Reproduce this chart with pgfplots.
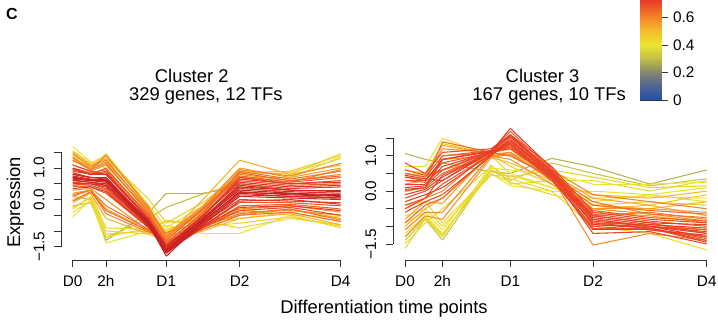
\documentclass[border=0pt]{standalone}
\usepackage{fontspec}
\setmainfont{Liberation Sans}
\usepackage{pgfplots}
\pgfplotsset{compat=1.18}
\pgfplotsset{
 colormap={fuzz}{rgb255(0cm)=(35,80,168); rgb255(1cm)=(80,100,150); rgb255(2cm)=(135,135,108); rgb255(3cm)=(190,190,72); rgb255(4cm)=(232,230,48); rgb255(5cm)=(246,188,44); rgb255(6cm)=(245,132,40); rgb255(7.27cm)=(232,58,38); rgb255(8cm)=(215,42,36); rgb255(10cm)=(165,22,30)},
 panel/.style={scale only axis, xmin=0, xmax=268, ymin=-1.5, ymax=1.5, clip=false,
   axis x line*=bottom, axis y line*=left,
   xtick={0,33.3,93.6,167,268}, xticklabels={D0,2h,D1,D2,D4},
   ytick={-1.5,-1,-0.5,0,0.5,1,1.5}, yticklabels={−1.5,,,0.0,,1.0,},
   tick align=outside, major tick length=5.5pt,
   axis line style={line width=0.6pt, black!80}, every tick/.style={line width=0.6pt, black!80},
   tick label style={font=\fontsize{11.5}{13}\selectfont},
   typeset ticklabels with strut,
   xticklabel style={yshift=-2pt},
   yticklabel style={rotate=90, anchor=south},
   colormap name=fuzz, point meta min=0, point meta max=1,
   every axis plot/.append style={line width=0.8pt},
 }
}
\begin{document}
\begin{tikzpicture}
\path[use as bounding box] (0,0) rectangle (538.5pt,243.75pt);
% ---------------- Cluster 2 ----------------
\begin{axis}[panel, at={(54.5pt,58.7pt)}, anchor=south west, width=201pt, height=70.8pt,
  axis x line shift=10pt, axis y line shift=8.25pt]
\addplot[mesh, point meta=0.28] coordinates {(0,0.10)(18,0.00)(33.3,-1.30)(76.4,-0.40)(93.6,0.20)(130.3,0.20)(167,0.40)(217.5,0.20)(268,0.00)};
\addplot[mesh, point meta=0.30] coordinates {(0,-0.20)(18,-0.10)(33.3,-1.20)(76.4,-0.60)(93.6,-0.25)(130.3,0.18)(167,0.50)(217.5,0.30)(268,0.30)};
\addplot[mesh, point meta=0.40] coordinates {(0,-0.55)(18,0.00)(33.3,-1.38)(76.4,-1.00)(93.6,-0.82)(130.3,-1.08)(167,-1.08)(217.5,-0.50)(268,-0.55)};
\addplot[mesh, point meta=0.40] coordinates {(0,1.68)(18,1.20)(33.3,1.00)(76.4,-0.50)(93.6,-1.00)(130.3,-0.50)(167,0.90)(217.5,0.80)(268,1.46)};
\addplot[mesh, point meta=0.42] coordinates {(0,-0.40)(18,-0.05)(33.3,-1.20)(76.4,-0.90)(93.6,-0.70)(130.3,-0.80)(167,-0.60)(217.5,-0.40)(268,-0.70)};
\addplot[mesh, point meta=0.42] coordinates {(0,1.40)(18,1.00)(33.3,1.46)(76.4,-0.20)(93.6,-0.90)(130.3,-0.20)(167,0.70)(217.5,0.70)(268,1.35)};
\addplot[mesh, point meta=0.43] coordinates {(0,-0.30)(18,0.10)(33.3,-1.00)(76.4,-1.10)(93.6,-0.95)(130.3,-0.60)(167,-0.30)(217.5,-0.50)(268,-0.90)};
\addplot[mesh, point meta=0.44] coordinates {(0,0.00)(18,0.20)(33.3,-0.90)(76.4,-0.95)(93.6,-0.70)(130.3,-0.70)(167,-0.90)(217.5,-0.60)(268,-0.80)};
\addplot[mesh, point meta=0.45] coordinates {(0,1.20)(18,1.10)(33.3,1.30)(76.4,0.00)(93.6,-0.75)(130.3,-0.10)(167,0.80)(217.5,0.85)(268,1.30)};
\addplot[mesh, point meta=0.45] coordinates {(0,-0.25)(18,0.05)(33.3,-1.10)(76.4,-1.00)(93.6,-0.65)(130.3,-0.85)(167,-0.75)(217.5,-0.55)(268,-0.85)};
\addplot[mesh, point meta=0.47] coordinates {(0,1.55)(18,1.15)(33.3,1.40)(76.4,-0.30)(93.6,-1.05)(130.3,-0.30)(167,0.85)(217.5,0.90)(268,1.40)};
\addplot[mesh, point meta=0.52] coordinates {(0,1.50)(18,1.10)(33.3,1.30)(76.4,-0.40)(93.6,-1.20)(130.3,0.00)(167,1.25)(217.5,0.80)(268,1.10)};
\addplot[mesh, point meta=0.52] coordinates {(0,-0.10)(18,0.20)(33.3,-0.60)(76.4,-1.10)(93.6,-1.30)(130.3,-1.00)(167,-0.60)(217.5,-0.45)(268,-0.80)};
\addplot[mesh, point meta=0.55] coordinates {(0,0.20)(18,0.30)(33.3,-0.30)(76.4,-1.00)(93.6,-1.20)(130.3,-0.80)(167,-0.50)(217.5,-0.30)(268,-0.60)};
\addplot[mesh, point meta=0.55] coordinates {(0,1.30)(18,1.00)(33.3,1.20)(76.4,-0.30)(93.6,-1.10)(130.3,-0.20)(167,1.00)(217.5,0.70)(268,1.00)};
\addplot[mesh, point meta=0.58] coordinates {(0,0.30)(18,0.35)(33.3,0.00)(76.4,-1.00)(93.6,-1.40)(130.3,-0.90)(167,-0.30)(217.5,-0.20)(268,-0.40)};
\addplot[mesh, point meta=0.58] coordinates {(0,1.10)(18,0.90)(33.3,1.10)(76.4,-0.40)(93.6,-1.25)(130.3,-0.35)(167,0.80)(217.5,0.60)(268,0.80)};
\addplot[mesh, point meta=0.60] coordinates {(0,0.10)(18,0.30)(33.3,-0.45)(76.4,-1.05)(93.6,-1.05)(130.3,-0.70)(167,-0.40)(217.5,-0.35)(268,-0.50)};
\addplot[mesh, point meta=0.60] coordinates {(0,1.45)(18,1.05)(33.3,1.25)(76.4,-0.35)(93.6,-1.15)(130.3,-0.25)(167,0.95)(217.5,0.75)(268,1.15)};
\addplot[mesh, point meta=0.61] coordinates {(0,1.35)(18,0.95)(33.3,1.40)(76.4,-0.25)(93.6,-1.20)(130.3,-0.30)(167,0.70)(217.5,0.55)(268,0.95)};
\addplot[mesh, point meta=0.62] coordinates {(0,0.15)(18,0.30)(33.3,-0.20)(76.4,-0.95)(93.6,-1.30)(130.3,-0.85)(167,-0.45)(217.5,-0.30)(268,-0.65)};
\addplot[mesh, point meta=0.63] coordinates {(0,1.25)(18,0.95)(33.3,1.15)(76.4,-0.45)(93.6,-1.35)(130.3,-0.45)(167,0.90)(217.5,0.65)(268,0.90)};
\addplot[mesh, point meta=0.64] coordinates {(0,-0.05)(18,0.25)(33.3,-0.35)(76.4,-1.00)(93.6,-1.35)(130.3,-0.95)(167,-0.50)(217.5,-0.40)(268,-0.70)};
\addplot[mesh, point meta=0.65] coordinates {(0,0.95)(18,0.80)(33.3,1.00)(76.4,-0.55)(93.6,-1.30)(130.3,-0.30)(167,0.85)(217.5,0.60)(268,0.75)};
\addplot[mesh, point meta=0.66] coordinates {(0,1.00)(18,0.85)(33.3,0.95)(76.4,-0.50)(93.6,-1.40)(130.3,-0.40)(167,0.75)(217.5,0.55)(268,0.70)};
\addplot[mesh, point meta=0.66] coordinates {(0,0.40)(18,0.40)(33.3,0.20)(76.4,-0.90)(93.6,-1.60)(130.3,-0.90)(167,-0.20)(217.5,-0.15)(268,-0.30)};
\addplot[mesh, point meta=0.68] coordinates {(0,0.90)(18,0.80)(33.3,0.90)(76.4,-0.60)(93.6,-1.45)(130.3,-0.50)(167,0.60)(217.5,0.45)(268,0.50)};
\addplot[mesh, point meta=0.68] coordinates {(0,0.50)(18,0.45)(33.3,0.30)(76.4,-0.90)(93.6,-1.55)(130.3,-0.85)(167,-0.10)(217.5,-0.10)(268,-0.20)};
\addplot[mesh, point meta=0.70] coordinates {(0,1.10)(18,0.90)(33.3,0.80)(76.4,-0.60)(93.6,-1.50)(130.3,-0.50)(167,0.70)(217.5,0.50)(268,0.60)};
\addplot[mesh, point meta=0.70] coordinates {(0,0.45)(18,0.50)(33.3,0.35)(76.4,-0.85)(93.6,-1.65)(130.3,-0.90)(167,-0.35)(217.5,-0.25)(268,-0.50)};
\addplot[mesh, point meta=0.72] coordinates {(0,0.80)(18,0.70)(33.3,0.70)(76.4,-0.70)(93.6,-1.50)(130.3,-0.60)(167,0.50)(217.5,0.35)(268,0.40)};
\addplot[mesh, point meta=0.72] coordinates {(0,0.55)(18,0.50)(33.3,0.40)(76.4,-0.85)(93.6,-1.60)(130.3,-0.75)(167,0.00)(217.5,-0.05)(268,-0.10)};
\addplot[mesh, point meta=0.74] coordinates {(0,0.95)(18,0.80)(33.3,0.85)(76.4,-0.65)(93.6,-1.45)(130.3,-0.55)(167,0.65)(217.5,0.50)(268,0.55)};
\addplot[mesh, point meta=0.74] coordinates {(0,0.35)(18,0.40)(33.3,0.25)(76.4,-0.90)(93.6,-1.65)(130.3,-0.85)(167,-0.25)(217.5,-0.20)(268,-0.35)};
\addplot[mesh, point meta=0.76] coordinates {(0,0.50)(18,0.50)(33.3,0.45)(76.4,-0.85)(93.6,-1.70)(130.3,-0.85)(167,-0.05)(217.5,0.00)(268,-0.15)};
\addplot[mesh, point meta=0.76] coordinates {(0,1.00)(18,0.80)(33.3,0.80)(76.4,-0.65)(93.6,-1.50)(130.3,-0.50)(167,0.55)(217.5,0.40)(268,0.45)};
\addplot[mesh, point meta=0.78] coordinates {(0,0.75)(18,0.65)(33.3,0.60)(76.4,-0.75)(93.6,-1.55)(130.3,-0.65)(167,0.35)(217.5,0.25)(268,0.20)};
\addplot[mesh, point meta=0.79] coordinates {(0,0.62)(18,0.55)(33.3,0.45)(76.4,-0.80)(93.6,-1.65)(130.3,-0.75)(167,0.15)(217.5,0.10)(268,0.05)};
\addplot[mesh, point meta=0.80] coordinates {(0,0.65)(18,0.60)(33.3,0.55)(76.4,-0.80)(93.6,-1.60)(130.3,-0.70)(167,0.20)(217.5,0.10)(268,0.05)};
\addplot[mesh, point meta=0.82] coordinates {(0,0.85)(18,0.70)(33.3,0.65)(76.4,-0.70)(93.6,-1.50)(130.3,-0.60)(167,0.40)(217.5,0.30)(268,0.25)};
\addplot[mesh, point meta=0.83] coordinates {(0,0.80)(18,0.70)(33.3,0.70)(76.4,-0.72)(93.6,-1.58)(130.3,-0.62)(167,0.45)(217.5,0.30)(268,0.30)};
\addplot[mesh, point meta=0.84] coordinates {(0,0.60)(18,0.55)(33.3,0.50)(76.4,-0.85)(93.6,-1.70)(130.3,-0.80)(167,0.10)(217.5,0.05)(268,0.00)};
\addplot[mesh, point meta=0.86] coordinates {(0,0.70)(18,0.62)(33.3,0.60)(76.4,-0.80)(93.6,-1.80)(130.3,-0.70)(167,0.25)(217.5,0.15)(268,0.10)};
\addplot[mesh, point meta=0.87] coordinates {(0,0.68)(18,0.62)(33.3,0.58)(76.4,-0.78)(93.6,-1.70)(130.3,-0.68)(167,0.22)(217.5,0.18)(268,0.12)};
\addplot[mesh, point meta=0.88] coordinates {(0,0.72)(18,0.60)(33.3,0.65)(76.4,-0.75)(93.6,-1.62)(130.3,-0.60)(167,0.30)(217.5,0.20)(268,0.15)};
\end{axis}
% ---------------- Cluster 3 ----------------
\begin{axis}[panel, at={(303.75pt,60.75pt)}, anchor=south west, width=226.3pt, height=79.3pt,
  axis x line shift=12pt, axis y line shift=8.8pt]
\addplot[mesh, point meta=0.28] coordinates {(0,1.07)(18,0.90)(33.3,0.80)(76.4,0.55)(93.6,0.50)(130.3,0.93)(167,0.69)(217.5,0.20)(268,0.60)};
\addplot[mesh, point meta=0.32] coordinates {(0,-1.40)(18,-0.80)(33.3,-1.39)(76.4,0.60)(93.6,0.30)(130.3,0.80)(167,0.50)(217.5,0.15)(268,0.35)};
\addplot[mesh, point meta=0.38] coordinates {(0,-1.63)(18,-0.78)(33.3,-1.30)(76.4,0.74)(93.6,0.20)(130.3,0.30)(167,0.30)(217.5,0.00)(268,0.30)};
\addplot[mesh, point meta=0.40] coordinates {(0,-1.20)(18,-0.70)(33.3,-1.20)(76.4,0.50)(93.6,0.15)(130.3,0.00)(167,0.00)(217.5,-0.10)(268,0.10)};
\addplot[mesh, point meta=0.40] coordinates {(0,-0.90)(18,-0.60)(33.3,-1.10)(76.4,0.65)(93.6,0.60)(130.3,0.50)(167,0.20)(217.5,0.20)(268,0.25)};
\addplot[mesh, point meta=0.42] coordinates {(0,-0.70)(18,-0.50)(33.3,-1.00)(76.4,0.45)(93.6,0.45)(130.3,0.10)(167,-0.20)(217.5,-0.16)(268,-0.20)};
\addplot[mesh, point meta=0.42] coordinates {(0,0.70)(18,0.70)(33.3,1.50)(76.4,1.00)(93.6,0.50)(130.3,0.10)(167,-0.30)(217.5,-0.10)(268,-0.30)};
\addplot[mesh, point meta=0.43] coordinates {(0,-1.50)(18,-0.90)(33.3,-0.50)(76.4,0.70)(93.6,0.35)(130.3,0.00)(167,-1.00)(217.5,-1.20)(268,-1.67)};
\addplot[mesh, point meta=0.44] coordinates {(0,-0.40)(18,-0.30)(33.3,-0.90)(76.4,0.50)(93.6,0.25)(130.3,-0.10)(167,-0.40)(217.5,-0.30)(268,-0.40)};
\addplot[mesh, point meta=0.45] coordinates {(0,-1.30)(18,-0.75)(33.3,-1.25)(76.4,0.60)(93.6,0.40)(130.3,0.60)(167,0.40)(217.5,0.10)(268,0.15)};
\addplot[mesh, point meta=0.47] coordinates {(0,0.50)(18,0.45)(33.3,1.35)(76.4,1.05)(93.6,0.70)(130.3,0.20)(167,-0.50)(217.5,-0.40)(268,-0.10)};
\addplot[mesh, point meta=0.50] coordinates {(0,0.40)(18,0.35)(33.3,0.60)(76.4,0.95)(93.6,0.80)(130.3,0.30)(167,-0.10)(217.5,-0.20)(268,0.00)};
\addplot[mesh, point meta=0.52] coordinates {(0,-1.00)(18,-0.50)(33.3,-0.20)(76.4,1.00)(93.6,1.00)(130.3,0.40)(167,-0.40)(217.5,-0.50)(268,-0.30)};
\addplot[mesh, point meta=0.53] coordinates {(0,0.60)(18,0.50)(33.3,1.30)(76.4,1.05)(93.6,1.10)(130.3,0.50)(167,-0.20)(217.5,-0.40)(268,-0.70)};
\addplot[mesh, point meta=0.55] coordinates {(0,-0.80)(18,-0.30)(33.3,-0.35)(76.4,1.10)(93.6,1.20)(130.3,0.30)(167,-0.60)(217.5,-0.70)(268,-0.90)};
\addplot[mesh, point meta=0.56] coordinates {(0,0.20)(18,0.30)(33.3,0.90)(76.4,1.00)(93.6,0.90)(130.3,0.20)(167,-0.50)(217.5,-0.50)(268,-0.60)};
\addplot[mesh, point meta=0.58] coordinates {(0,-0.50)(18,-0.20)(33.3,0.00)(76.4,1.15)(93.6,1.60)(130.3,0.40)(167,-1.53)(217.5,-1.20)(268,-1.40)};
\addplot[mesh, point meta=0.58] coordinates {(0,-1.30)(18,-0.70)(33.3,-0.80)(76.4,0.95)(93.6,1.05)(130.3,0.35)(167,-0.50)(217.5,-0.65)(268,-0.85)};
\addplot[mesh, point meta=0.60] coordinates {(0,0.50)(18,0.40)(33.3,1.20)(76.4,1.10)(93.6,1.30)(130.3,0.60)(167,-0.10)(217.5,-0.30)(268,-0.50)};
\addplot[mesh, point meta=0.60] coordinates {(0,-1.10)(18,-0.60)(33.3,-0.60)(76.4,1.00)(93.6,1.10)(130.3,0.30)(167,-0.70)(217.5,-0.60)(268,-0.80)};
\addplot[mesh, point meta=0.62] coordinates {(0,0.00)(18,0.10)(33.3,1.00)(76.4,1.10)(93.6,1.20)(130.3,0.45)(167,-0.30)(217.5,-0.65)(268,-0.75)};
\addplot[mesh, point meta=0.64] coordinates {(0,0.30)(18,0.25)(33.3,1.40)(76.4,1.10)(93.6,1.00)(130.3,0.40)(167,-0.40)(217.5,-0.55)(268,-0.65)};
\addplot[mesh, point meta=0.65] coordinates {(0,-0.90)(18,-0.40)(33.3,-0.20)(76.4,1.05)(93.6,1.35)(130.3,0.40)(167,-0.90)(217.5,-0.95)(268,-1.10)};
\addplot[mesh, point meta=0.66] coordinates {(0,0.00)(18,0.10)(33.3,0.50)(76.4,1.10)(93.6,1.40)(130.3,0.50)(167,-0.80)(217.5,-1.00)(268,-1.10)};
\addplot[mesh, point meta=0.66] coordinates {(0,0.50)(18,0.40)(33.3,1.00)(76.4,1.15)(93.6,1.70)(130.3,0.60)(167,-0.70)(217.5,-0.90)(268,-1.20)};
\addplot[mesh, point meta=0.67] coordinates {(0,0.60)(18,0.45)(33.3,0.60)(76.4,1.15)(93.6,1.55)(130.3,0.60)(167,-0.55)(217.5,-0.75)(268,-0.85)};
\addplot[mesh, point meta=0.68] coordinates {(0,-0.40)(18,-0.20)(33.3,0.20)(76.4,1.05)(93.6,1.30)(130.3,0.30)(167,-1.00)(217.5,-1.10)(268,-1.30)};
\addplot[mesh, point meta=0.68] coordinates {(0,0.30)(18,0.30)(33.3,0.80)(76.4,1.10)(93.6,1.50)(130.3,0.55)(167,-0.65)(217.5,-0.85)(268,-1.00)};
\addplot[mesh, point meta=0.69] coordinates {(0,-0.50)(18,-0.20)(33.3,0.45)(76.4,1.10)(93.6,1.30)(130.3,0.45)(167,-1.05)(217.5,-1.05)(268,-1.35)};
\addplot[mesh, point meta=0.70] coordinates {(0,-0.20)(18,0.00)(33.3,0.30)(76.4,1.15)(93.6,1.20)(130.3,0.40)(167,-0.90)(217.5,-1.05)(268,-1.40)};
\addplot[mesh, point meta=0.70] coordinates {(0,0.80)(18,0.50)(33.3,1.10)(76.4,1.20)(93.6,1.60)(130.3,0.70)(167,-0.60)(217.5,-0.80)(268,-0.90)};
\addplot[mesh, point meta=0.71] coordinates {(0,0.10)(18,0.15)(33.3,0.60)(76.4,1.10)(93.6,1.25)(130.3,0.45)(167,-1.20)(217.5,-1.15)(268,-1.50)};
\addplot[mesh, point meta=0.71] coordinates {(0,-0.60)(18,-0.30)(33.3,-0.10)(76.4,1.00)(93.6,1.45)(130.3,0.50)(167,-0.85)(217.5,-1.00)(268,-1.15)};
\addplot[mesh, point meta=0.72] coordinates {(0,0.20)(18,0.20)(33.3,0.70)(76.4,1.12)(93.6,1.78)(130.3,0.65)(167,-0.75)(217.5,-0.95)(268,-1.05)};
\addplot[mesh, point meta=0.72] coordinates {(0,-0.10)(18,0.05)(33.3,0.40)(76.4,1.10)(93.6,1.35)(130.3,0.35)(167,-1.10)(217.5,-1.10)(268,-1.25)};
\addplot[mesh, point meta=0.72] coordinates {(0,0.40)(18,0.30)(33.3,0.90)(76.4,1.15)(93.6,1.55)(130.3,0.55)(167,-0.95)(217.5,-1.00)(268,-1.30)};
\addplot[mesh, point meta=0.72] coordinates {(0,-0.30)(18,-0.10)(33.3,0.10)(76.4,1.05)(93.6,1.40)(130.3,0.45)(167,-0.70)(217.5,-0.90)(268,-0.95)};
\addplot[mesh, point meta=0.72] coordinates {(0,0.05)(18,0.10)(33.3,0.90)(76.4,1.12)(93.6,1.60)(130.3,0.55)(167,-0.80)(217.5,-1.00)(268,-1.20)};
\addplot[mesh, point meta=0.72] coordinates {(0,0.45)(18,0.35)(33.3,0.30)(76.4,1.10)(93.6,1.45)(130.3,0.50)(167,-0.95)(217.5,-1.05)(268,-1.45)};
\end{axis}
% ---------------- colour key ----------------
\begin{axis}[at={(480pt,168.75pt)}, anchor=south west, scale only axis, width=15.75pt, height=75pt,
  xmin=0, xmax=1, ymin=0, ymax=0.727, xtick=\empty,
  ytick={0,0.2,0.4,0.6}, yticklabels={0,0.2,0.4,0.6}, ytick pos=right, yticklabel pos=right,
  tick align=outside, major tick length=5.5pt,
  axis line style={line width=0.6pt, black!80}, every tick/.style={line width=0.6pt, black!80},
  tick label style={font=\fontsize{11.5}{13}\selectfont},
  colormap name=fuzz, point meta min=0, point meta max=1]
\addplot[surf, shader=interp, point meta=y] coordinates {
(0,0) (1,0)

(0,0.1) (1,0.1)

(0,0.2) (1,0.2)

(0,0.3) (1,0.3)

(0,0.4) (1,0.4)

(0,0.5) (1,0.5)

(0,0.6) (1,0.6)

(0,0.727) (1,0.727)
};
\end{axis}
% ---------------- texts ----------------
\tikzset{ttl/.style={font=\fontsize{13.8}{16}\selectfont, anchor=base, inner sep=0pt}}
\node[font=\bfseries\fontsize{12}{14}\selectfont] at (9pt,233.5pt) {C};
\node[ttl] at (143.8pt,182.2pt) {Cluster 2};
\node[ttl] at (154.4pt,168.2pt) {329 genes, 12 TFs};
\node[ttl] at (406.9pt,182.2pt) {Cluster 3};
\node[ttl] at (411.9pt,168.2pt) {167 genes, 10 TFs};
\node[font=\fontsize{13.8}{16}\selectfont, rotate=90] at (11.5pt,91.9pt) {Expression};
\node[ttl] at (288pt,8.8pt) {Differentiation time points};
\end{tikzpicture}
\end{document}
